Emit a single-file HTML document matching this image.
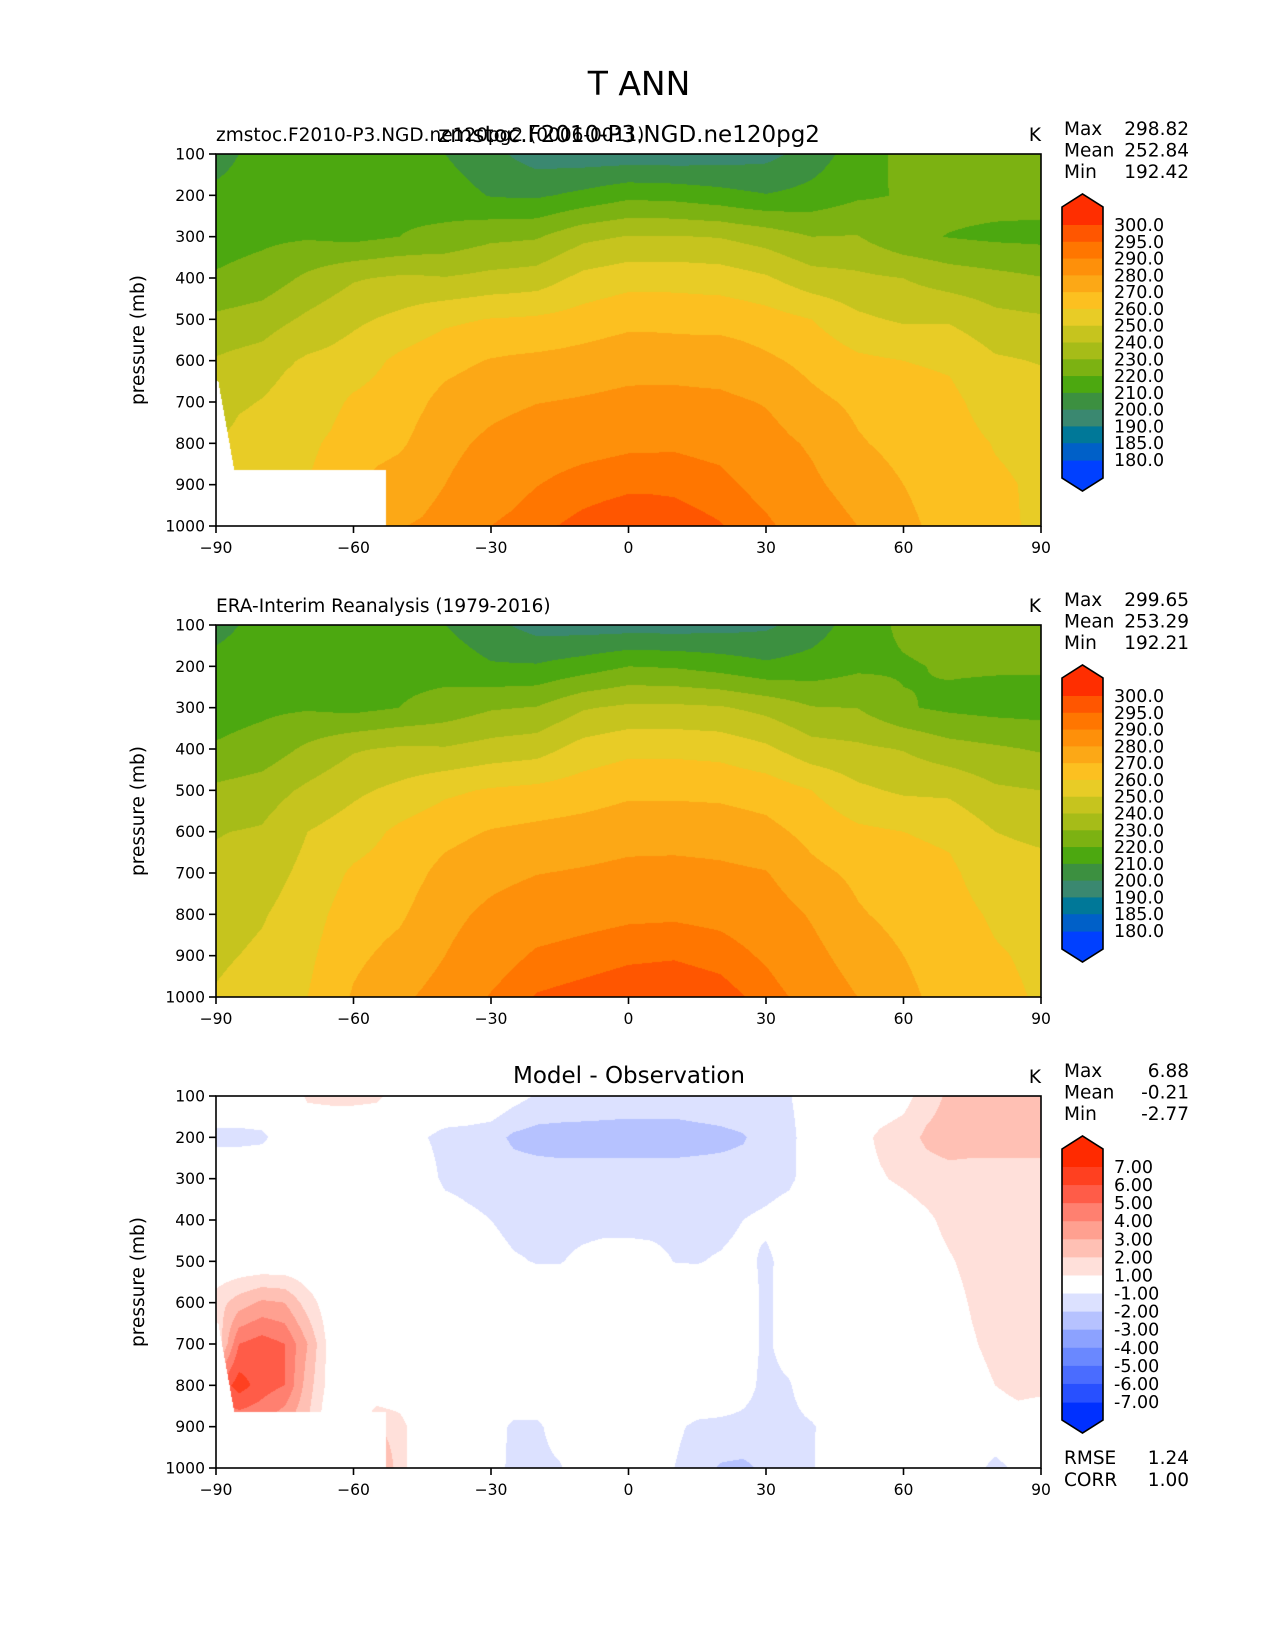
<!DOCTYPE html>
<html><head><meta charset="utf-8">
<style>
body{margin:0;background:#fff;}
#page{position:relative;width:1275px;height:1650px;background:#fff;overflow:hidden;font-family:"DejaVu Sans","Liberation Sans",sans-serif;}
canvas{position:absolute;}
svg{position:absolute;left:0;top:0;}
text{font-family:"DejaVu Sans","Liberation Sans",sans-serif;fill:#000;}
</style></head>
<body>
<div id="page">
<canvas id="c1" width="825" height="372" style="left:216px;top:154px"></canvas>
<canvas id="c2" width="825" height="372" style="left:216px;top:625px"></canvas>
<canvas id="c3" width="825" height="372" style="left:216px;top:1096px"></canvas>
<svg id="ov" width="1275" height="1650">
<text x="639" y="95" font-size="33" text-anchor="middle">T ANN</text>
<text x="216" y="141" font-size="18.5">zmstoc.F2010-P3.NGD.ne120pg2 (0006-0011)</text>
<text x="629" y="142" font-size="23" text-anchor="middle">zmstoc.F2010-P3.NGD.ne120pg2</text>
<text x="216" y="612" font-size="18.5">ERA-Interim Reanalysis (1979-2016)</text>
<text x="629" y="1083" font-size="23" text-anchor="middle">Model - Observation</text>
<text x="1064" y="1464" font-size="18.5">RMSE</text>
<text x="1189" y="1464" font-size="18.5" text-anchor="end">1.24</text>
<text x="1064" y="1486" font-size="18.5">CORR</text>
<text x="1189" y="1486" font-size="18.5" text-anchor="end">1.00</text>
</svg>
</div>
<script>
// ---------- data ----------
const eraLats = [-90,-80,-70,-60,-50,-40,-30,-20,-10,0,10,20,30,40,50,60,70,80,90];
const pressureLevels = [100,200,300,400,500,600,700,800,900,1000];
const era100 = [207,213,214,213,215,210,203,196,195,195,195,196,198,205,215,222,225,226,225];
const era200 = [213,215,216,215,217,216,211,211,215,220,219,216,212,214,218,219,221,221,221];
const era300 = [216,218,219,217,220,224,229,230.5,239,242,242,241,237,230.5,229.8,221,218,216.5,216];
const era400 = [221,224,232,239,241.5,241,244,246,254,257.5,257.5,256.5,252,244,242,239.5,234,231.5,229];
const era500 = [232,235,242,248,252.5,258,261,262.5,265,268,268,267.5,265.5,260,252,248.5,248,241.5,240];
const era600 = [239.5,241,250,255,262,267,270.6,272.5,274,276,276,275.5,273,267,262,260,258,250,248];
const era700 = [242,245,253,261.5,265,273,277,279.7,281,282.6,283,282,280.5,272.5,268,264,262,254,253];
const era800 = [245,249,256,265,268.5,277,282.3,286,287.5,288.7,289,288,285.5,279,271,267,264,258.5,256];
const era900 = [248,252,258,268,273,280,286.5,291,292.5,294,294.5,293,289,283,275.5,270,266,261,258];
const era1000 = [251,256,260,271,278,284,290.5,295.5,297,298.5,299,297.5,293,287,280,272,267,262.5,259];

const diffLats = [-90,-85,-80,-75,-70,-65,-60,-55,-50,-45,-40,-35,-30,-25,-20,-15,-10,-5,0,5,10,15,20,25,30,35,40,45,50,55,60,65,70,75,80,85,90];
const diff100 = [0,0,0,0,1.2,1.3,1.3,1.2,0.5,0,0,0,0,-0.6,-1.1,-1.1,-1.2,-1.3,-1.4,-1.4,-1.4,-1.3,-1.2,-1.1,-1.1,-1.05,-0.6,-0.2,0,0.3,0.6,1.5,2.2,2.3,2.3,2.4,2.4];
const diff200 = [-1.3,-1.3,-1.2,-0.5,0,0,0,0,0,-0.9,-1.3,-1.4,-1.6,-2.2,-2.4,-2.5,-2.5,-2.5,-2.5,-2.5,-2.5,-2.4,-2.3,-2.1,-1.5,-1.2,-0.6,0,0.6,1.2,1.5,2.2,2.5,2.5,2.5,2.5,2.5];
const diff300 = [0,0,0,0,0,0,0,0,0,-0.5,-1.2,-1.3,-1.4,-1.5,-1.5,-1.5,-1.5,-1.5,-1.5,-1.5,-1.5,-1.5,-1.5,-1.5,-1.4,-1.2,-0.5,0.2,0.6,0.9,1.2,1.5,1.6,1.5,1.5,1.5,1.5];
const diff400 = [0,0,0,0,0,0,0,0,0,0,-0.5,-0.8,-1.0,-1.3,-1.3,-1.3,-1.3,-1.3,-1.3,-1.3,-1.3,-1.3,-1.3,-1.0,-0.8,-0.5,0,0,0,0.2,0.4,0.8,1.3,1.4,1.4,1.4,1.4];
const diff500 = [0,0,0,0,0,0,0,0,0,0,0,-0.3,-0.6,-0.9,-1.05,-1.05,-0.8,-0.6,-0.6,-0.7,-1.02,-1.05,-0.9,-0.7,-1.2,-0.6,0,0,0,0,0.2,0.5,0.9,1.3,1.4,1.4,1.4];
const diff600 = [1.5,2.5,3.2,3,1.5,0.3,0,0,0,0,0,0,0,0,-0.3,-0.3,0,0,0,0,-0.3,-0.3,0,-0.5,-1.2,-0.5,0,0,0,0,0,0.3,0.6,1.1,1.4,1.4,1.4];
const diff700 = [1.0,5,5.5,5,3,0.5,0,0,0,0,0,0,0,0,0,0,0,0,0,0,0,0,0,-0.5,-1.2,-0.5,0,0,0,0,0,0.2,0.4,0.9,1.3,1.4,1.4];
const diff800 = [5,6.5,5.5,5,2.5,0.5,0,0,0,0,0,0,0,0,0,0,0,0,0,0,0,0,0,-0.6,-1.3,-1.1,-0.3,0,0,0,0,0,0.3,0.6,1.0,1.3,1.3];
const diff900 = [4,4,4,3,2,0,0,2.0,1.5,0,0,0,-0.5,-1.2,-1.2,-0.5,0,0,0,-0.3,-0.8,-1.2,-1.3,-1.3,-1.4,-1.3,-1.1,-0.5,0,0,0,0,0,0,0.3,0.5,0.2];
const diff1000 = [4,4,4,3,2,0,0,3.5,1.5,0,0,0,-0.5,-1.3,-1.3,-1.1,-0.3,0,0,-0.3,-1.0,-1.5,-2.1,-2.2,-1.8,-1.4,-1.1,-0.3,0,0,0,0,0,-0.3,-1.5,-0.6,0];

const tLevels = [180,185,190,200,210,220,230,240,250,260,270,280,290,295,300];
const tLabels = ['300.0','295.0','290.0','280.0','270.0','260.0','250.0','240.0','230.0','220.0','210.0','200.0','190.0','185.0','180.0'];
const dLevels = [-7,-6,-5,-4,-3,-2,-1,1,2,3,4,5,6,7];
const dLabels = ['7.00','6.00','5.00','4.00','3.00','2.00','1.00','-1.00','-2.00','-3.00','-4.00','-5.00','-6.00','-7.00'];
const xTicks = [-90,-60,-30,0,30,60,90];
const yTicks = [100,200,300,400,500,600,700,800,900,1000];
const modelStats = ['298.82','252.84','192.42'];
const obsStats = ['299.65','253.29','192.21'];
const diffStats = ['6.88','-0.21','-2.77'];
const maskDeepP = 865, maskDeepLat = -53;

// ---------- styles ----------
const tColors = ['#0040ff','#0060c8','#007898','#3a8870','#3c9040','#4ca810','#7cb212','#a6bc18','#c6c41e','#e8cc26','#fcc020','#fca816','#fe900a','#ff7600','#ff5600','#ff2e00'];
const dColors = ['#0030ff','#2850ff','#4a6cff','#6a88ff','#8ca2ff','#b6c2ff','#dce1ff','#ffffff','#ffe0da','#ffc0b4','#ffa090','#ff8070','#ff5c48','#ff4020','#ff2a00'];

const eraRows = [era100,era200,era300,era400,era500,era600,era700,era800,era900,era1000];
const diffRows = [diff100,diff200,diff300,diff400,diff500,diff600,diff700,diff800,diff900,diff1000];

function interp(rows, lats, lat, p){
  let fi = (lat - lats[0])/(lats[1]-lats[0]);
  let fj = (p - pressureLevels[0])/(pressureLevels[1]-pressureLevels[0]);
  fi = Math.max(0, Math.min(lats.length-1.0001, fi));
  fj = Math.max(0, Math.min(pressureLevels.length-1.0001, fj));
  const i = Math.floor(fi), j = Math.floor(fj), a = fi-i, b = fj-j;
  const v00 = rows[j][i], v01 = rows[j][i+1], v10 = rows[j+1][i], v11 = rows[j+1][i+1];
  return (v00*(1-a)+v01*a)*(1-b) + (v10*(1-a)+v11*a)*b;
}
function masked(lat,p){
  if (p >= maskDeepP && lat < maskDeepLat) return true;
  if (p >= 650 && p < maskDeepP) { const edge = -89.5 + (p-650)/(maskDeepP-650)*3.5; if (lat < edge) return true; }
  return false;
}
function hex(c){return [parseInt(c.slice(1,3),16),parseInt(c.slice(3,5),16),parseInt(c.slice(5,7),16)];}
function bandIndex(v, levels){ let k=0; while(k<levels.length && v>=levels[k]) k++; return k; }

const xScale = lat => (lat+90)/180*825;
const yScale = p => (p-100)/900*372;

function drawField(id, fn, levels, colors, useMask){
  const cv = document.getElementById(id), ctx = cv.getContext('2d');
  const W = cv.width, H = cv.height, img = ctx.createImageData(W,H), rgb = colors.map(hex);
  for (let y=0;y<H;y++){
    const p = 100 + (y+0.5)/H*900;
    for (let x=0;x<W;x++){
      const lat = -90 + (x+0.5)/W*180;
      const o = (y*W+x)*4;
      let c = [255,255,255];
      if (!(useMask && masked(lat,p))) c = rgb[bandIndex(fn(lat,p), levels)];
      img.data[o]=c[0]; img.data[o+1]=c[1]; img.data[o+2]=c[2]; img.data[o+3]=255;
    }
  }
  ctx.putImageData(img,0,0);
}
drawField('c1', (lat,p)=>interp(eraRows,eraLats,lat,p)+interp(diffRows,diffLats,lat,p), tLevels, tColors, true);
drawField('c2', (lat,p)=>interp(eraRows,eraLats,lat,p), tLevels, tColors, false);
drawField('c3', (lat,p)=>interp(diffRows,diffLats,lat,p), dLevels, dColors, true);

// ---------- axes & colorbars ----------
const NS = 'http://www.w3.org/2000/svg', svg = document.getElementById('ov');
function mk(tag, attrs, txt){ const e = document.createElementNS(NS, tag); for (const k in attrs) e.setAttribute(k, attrs[k]); if (txt!==undefined) e.textContent = txt; svg.appendChild(e); return e; }

const panels = [{top:154, stats:modelStats, sub:'model'},{top:625, stats:obsStats, sub:'obs'},{top:1096, stats:diffStats, sub:'diff'}];
panels.forEach((pn, idx) => {
  const L = 216, T = pn.top, W = 825, H = 372;
  const fr = mk('rect', {x:L, y:T, width:W, height:H, fill:'none', stroke:'#000', 'stroke-width':1.6});
  
  
  xTicks.forEach(v => {
    const x = L + xScale(v);
    const t = mk('line', {x1:x, y1:T+H, x2:x, y2:T+H+7, stroke:'#000', 'stroke-width':1.6});
    
    
    const lb = mk('text', {x:x, y:T+H+27, 'font-size':15.6, 'text-anchor':'middle'}, String(v).replace('-','\u2212'));
    
    
  });
  yTicks.forEach(v => {
    const y = T + yScale(v);
    const t = mk('line', {x1:L-7, y1:y, x2:L, y2:y, stroke:'#000', 'stroke-width':1.6});
    
    
    const lb = mk('text', {x:L-11, y:y+5.5, 'font-size':15.6, 'text-anchor':'end'}, String(v));
    
    
  });
  const yl = mk('text', {x:0, y:0, 'font-size':18.5, 'text-anchor':'middle', transform:'translate(144,'+(T+H/2)+') rotate(-90)'}, 'pressure (mb)');
  
  
  const ku = mk('text', {x:1041, y:T-13, 'font-size':18.5, 'text-anchor':'end'}, 'K');
  
  
  ['Max','Mean','Min'].forEach((nm,k) => {
    const a = mk('text', {x:1064, y:T-19+k*21.5, 'font-size':18.5}, nm);
    
    
    const b = mk('text', {x:1189, y:T-19+k*21.5, 'font-size':18.5, 'text-anchor':'end'}, pn.stats[k]);
    
    
  });
  const isDiff = idx === 2;
  const colors = isDiff ? dColors : tColors;
  const labels = isDiff ? dLabels : tLabels;
  const nInt = labels.length - 1;
  const cx0 = 1062, cx1 = 1103, first = T + 71, span = 235, step = span/nInt;
  const tipTop = first - 31, tipBot = first + span + 31;
  const topC = colors[colors.length-1], botC = colors[0];
  const te = mk('polygon', {points:`${cx0},${first} ${cx0},${tipTop+13} ${(cx0+cx1)/2},${tipTop} ${cx1},${tipTop+13} ${cx1},${first}`, fill:topC});
  
  
  const be = mk('polygon', {points:`${cx0},${first+span} ${cx0},${tipBot-13} ${(cx0+cx1)/2},${tipBot} ${cx1},${tipBot-13} ${cx1},${first+span}`, fill:botC});
  
  
  for (let k=0;k<nInt;k++){
    const r = mk('rect', {x:cx0, y:first+k*step, width:cx1-cx0, height:step+0.6, fill:colors[colors.length-2-k]});
    
    
  }
  const ol = mk('polygon', {points:`${cx0},${tipTop+13} ${(cx0+cx1)/2},${tipTop} ${cx1},${tipTop+13} ${cx1},${tipBot-13} ${(cx0+cx1)/2},${tipBot} ${cx0},${tipBot-13}`, fill:'none', stroke:'#000', 'stroke-width':1.6});
  
  
  labels.forEach((s,k) => {
    const y = first + k*step;
    const lb = mk('text', {x:1114, y:y+6, 'font-size':17.5}, s);
    
    
  });
});
</script>
</body></html>
